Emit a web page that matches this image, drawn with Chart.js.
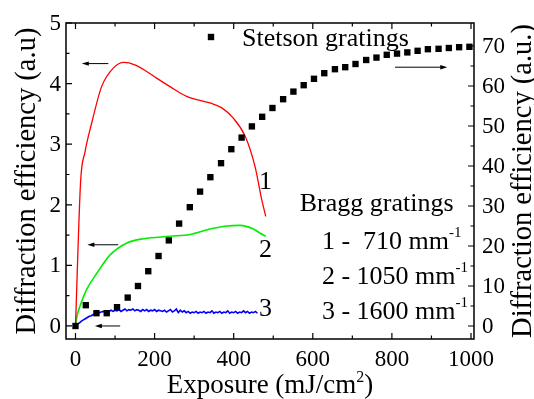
<!DOCTYPE html>
<html><head><meta charset="utf-8">
<script src="https://cdn.jsdelivr.net/npm/chart.js@4.4.1/dist/chart.umd.min.js"></script>
</head>
<body style="margin:0">
<div id="wrap" style="position:relative;width:534px;height:399px;overflow:hidden">
<canvas id="c" width="534" height="399"></canvas>
<div id="labels" style="position:absolute;left:0;top:0;width:534px;height:399px;color:#000;font-family:'Liberation Serif','Times New Roman',serif"></div>
</div>
<script>
// Stetson gratings (right axis)
const stetsonX = [0, 26, 53, 79, 105, 132, 158, 184, 210, 236, 262, 289, 315, 341, 368, 394, 420, 446, 472, 498,
                  525, 551, 577, 603, 629, 656, 682, 708, 735, 761, 787, 813, 839, 865, 891, 918, 944, 970, 996];
const stetsonY = [0, 5.2, 3.2, 3.2, 4.7, 7.1, 10, 13.7, 17.5, 21.4, 25.6, 29.7, 33.6, 37.2, 40.7, 44.2, 47.1, 49.9, 52.3, 54.5,
                  56.7, 58.6, 60.2, 61.8, 63.2, 64.2, 64.7, 65.5, 66.5, 67.1, 67.8, 68.1, 68.4, 68.8, 69.2, 69.3, 69.5, 69.7, 69.8];

// Bragg gratings (left axis)
const bragg1X = [0, 13, 24, 41, 66, 96, 123, 150, 180, 205, 239, 281, 340, 370, 399, 429, 454, 471, 481];
const bragg1Y = [0, 2.39, 2.87, 3.35, 3.95, 4.26, 4.35, 4.31, 4.2, 4.09, 3.95, 3.79, 3.68, 3.6, 3.43, 3.13, 2.63, 2.08, 1.81];

const bragg2X = [0, 4, 11, 28, 54, 87, 130, 172, 239, 290, 340, 382, 416, 450, 467, 481];
const bragg2Y = [0, 0.17, 0.32, 0.6, 0.87, 1.17, 1.37, 1.44, 1.48, 1.51, 1.6, 1.65, 1.66, 1.6, 1.53, 1.48];

const bragg3X = [0, 5, 10, 15, 20, 25, 30, 35, 40, 45, 50, 55, 60, 65, 70, 75, 80, 85, 90, 95,
                 100, 105, 110, 115, 120, 125, 130, 135, 140, 145, 150, 155, 160, 165, 170, 175, 180, 185, 190, 195,
                 200, 205, 210, 215, 220, 225, 230, 235, 240, 245, 250, 255, 260, 265, 270, 275, 280, 285, 290, 295,
                 300, 305, 310, 315, 320, 325, 330, 335, 340, 345, 350, 355, 360, 365, 370, 375, 380, 385, 390, 395,
                 400, 405, 410, 415, 420, 425, 430, 435, 440, 445, 450, 455, 460];
const bragg3Y = [0, 0.03, 0.05, 0.08, 0.10, 0.12, 0.14, 0.16, 0.17, 0.19, 0.20, 0.21, 0.22, 0.23, 0.24, 0.23, 0.25, 0.24, 0.26, 0.24,
                 0.26, 0.25, 0.27, 0.24, 0.26, 0.28, 0.25, 0.27, 0.26, 0.28, 0.25, 0.27, 0.26, 0.24, 0.27, 0.25, 0.27, 0.24, 0.26, 0.25,
                 0.27, 0.24, 0.26, 0.25, 0.24, 0.26, 0.23, 0.25, 0.27, 0.23, 0.25, 0.28, 0.22, 0.26, 0.23, 0.25, 0.22, 0.24, 0.21, 0.23,
                 0.22, 0.24, 0.21, 0.23, 0.22, 0.24, 0.21, 0.23, 0.22, 0.25, 0.21, 0.23, 0.22, 0.24, 0.21, 0.23, 0.22, 0.25, 0.21, 0.23,
                 0.22, 0.24, 0.21, 0.23, 0.22, 0.25, 0.22, 0.24, 0.21, 0.23, 0.22, 0.24, 0.21];

// tick values
const xTicks = [0, 200, 400, 600, 800, 1000];
const xMinor = [100, 300, 500, 700, 900];
const yTicks = [0, 1, 2, 3, 4, 5];
const yMinor = [0.5, 1.5, 2.5, 3.5, 4.5];
const y2Ticks = [0, 10, 20, 30, 40, 50, 60, 70];
const y2Minor = [5, 15, 25, 35, 45, 55, 65];

function pts(xs, ys) {
    return xs.map((x, i) => ({ x: x, y: ys[i] }));
}

// arrows: [x1, x2, y, axis] ; arrow head at x2
const arrows = [
    [83, 16, 4.33, 'y'],
    [108, 30, 1.34, 'y'],
    [113, 49, 0.0, 'y'],
    [808, 940, 64.7, 'y2']
];

const curveLabels = [['1', 464, 2.25], ['2', 464, 1.12], ['3', 464, 0.15]];

const braggLines = [
    ['1 -\u00A0 710 mm', '-1', 623, 1.256],
    ['2 - 1050 mm', '-1', 623, 0.678],
    ['3 - 1600 mm', '-1', 623, 0.099]
];

// text as html, baseline placed with line-height 0 (Liberation Serif: (ascent - descent) / 2 = 0.3375em)
const layer = document.getElementById('labels');
const BASE = 0.3375;

function addText(html, x, baseline, size, align) {
    const d = document.createElement('div');
    const shift = align === 'center' ? '-50%' : align === 'right' ? '-100%' : '0';
    d.style.cssText = 'position:absolute;white-space:nowrap;line-height:0;font-size:' + size + 'px;left:' + x +
        'px;top:' + (baseline - BASE * size) + 'px;transform:translateX(' + shift + ')';
    d.innerHTML = html;
    layer.appendChild(d);
}

function addVertical(text, baselineX, midY, size) {
    const d = document.createElement('div');
    d.style.cssText = 'position:absolute;white-space:nowrap;line-height:0;font-size:' + size + 'px;left:' +
        (baselineX - BASE * size) + 'px;top:' + midY + 'px;transform-origin:0 0;transform:rotate(-90deg) translateX(-50%)';
    d.textContent = text;
    layer.appendChild(d);
}

const framePlugin = {
    id: 'frame',
    afterDraw(chart) {
        const ctx = chart.ctx;
        const a = chart.chartArea;
        const sx = chart.scales.x, sy = chart.scales.y, sy2 = chart.scales.y2;
        ctx.save();
        ctx.strokeStyle = '#000';
        ctx.fillStyle = '#000';

        // box
        ctx.lineWidth = 1.5;
        ctx.strokeRect(a.left, a.top, a.right - a.left, a.bottom - a.top);

        // tick marks, inward
        ctx.lineWidth = 1.2;
        ctx.beginPath();
        xTicks.concat(xMinor).forEach(v => {
            const len = xTicks.includes(v) ? 6 : 3.5;
            const px = sx.getPixelForValue(v);
            ctx.moveTo(px, a.bottom); ctx.lineTo(px, a.bottom - len);
            ctx.moveTo(px, a.top); ctx.lineTo(px, a.top + len);
        });
        yTicks.concat(yMinor).forEach(v => {
            const len = yTicks.includes(v) ? 6 : 3.5;
            const py = sy.getPixelForValue(v);
            ctx.moveTo(a.left, py); ctx.lineTo(a.left + len, py);
        });
        y2Ticks.concat(y2Minor).forEach(v => {
            const len = y2Ticks.includes(v) ? 6 : 3.5;
            const py = sy2.getPixelForValue(v);
            ctx.moveTo(a.right, py); ctx.lineTo(a.right - len, py);
        });
        ctx.stroke();

        // arrows
        ctx.lineWidth = 1;
        arrows.forEach(([x1, x2, y, ax]) => {
            const p1 = sx.getPixelForValue(x1), p2 = sx.getPixelForValue(x2);
            const py = chart.scales[ax].getPixelForValue(y);
            const dir = p2 > p1 ? 1 : -1;
            ctx.beginPath();
            ctx.moveTo(p1, py); ctx.lineTo(p2 - dir * 5, py);
            ctx.stroke();
            ctx.beginPath();
            ctx.moveTo(p2, py);
            ctx.lineTo(p2 - dir * 7, py - 2.2);
            ctx.lineTo(p2 - dir * 7, py + 2.2);
            ctx.closePath();
            ctx.fill();
        });

        // Stetson legend square
        const lx = sx.getPixelForValue(342.6), ly = sy2.getPixelForValue(72.25);
        ctx.fillRect(lx - 3.2, ly - 3.2, 6.4, 6.4);
        ctx.restore();

        // all text
        layer.innerHTML = '';
        xTicks.forEach(v => addText(String(v), sx.getPixelForValue(v), 367, 23, 'center'));
        yTicks.forEach(v => addText(String(v), 61, sy.getPixelForValue(v) + 7.8, 23, 'right'));
        y2Ticks.forEach(v => addText(String(v), 482, sy2.getPixelForValue(v) + 7.8, 23, 'left'));

        curveLabels.forEach(([t, x, y]) => addText(t, sx.getPixelForValue(x), sy.getPixelForValue(y), 26, 'left'));

        addText('Bragg gratings', sx.getPixelForValue(567), sy.getPixelForValue(1.884), 26, 'left');
        braggLines.forEach(([t, sup, x, y]) => {
            addText(t + '<span style="font-size:15px;position:relative;top:-12px">' + sup + '</span>',
                sx.getPixelForValue(x), sy.getPixelForValue(y), 26, 'left');
        });
        addText('Stetson gratings', sx.getPixelForValue(421), sy2.getPixelForValue(69.75), 26, 'left');

        const midY = (a.top + a.bottom) / 2;
        addVertical('Diffraction efficiency (a.u)', 36, midY, 28.5);
        addVertical('Diffraction efficiency (a.u.)', 532, midY, 28.5);
        addText('Exposure (mJ/cm<span style="font-size:16px;position:relative;top:-11px">2</span>)',
            (a.left + a.right) / 2, 393, 27, 'center');
    }
};

new Chart(document.getElementById('c').getContext('2d'), {
    type: 'line',
    data: {
        datasets: [
            {
                label: 'Stetson gratings',
                data: pts(stetsonX, stetsonY),
                yAxisID: 'y2',
                showLine: false,
                pointStyle: 'rect',
                pointRadius: 4.5,
                pointBackgroundColor: '#000',
                pointBorderWidth: 0
            },
            {
                label: '1',
                data: pts(bragg1X, bragg1Y),
                yAxisID: 'y',
                borderColor: '#ff0000',
                borderWidth: 1.3,
                pointRadius: 0,
                cubicInterpolationMode: 'monotone'
            },
            {
                label: '2',
                data: pts(bragg2X, bragg2Y),
                yAxisID: 'y',
                borderColor: '#00ee00',
                borderWidth: 1.6,
                pointRadius: 0,
                cubicInterpolationMode: 'monotone'
            },
            {
                label: '3',
                data: pts(bragg3X, bragg3Y),
                yAxisID: 'y',
                borderColor: '#0000ff',
                borderWidth: 1.6,
                pointRadius: 0
            }
        ]
    },
    options: {
        responsive: false,
        animation: false,
        layout: { padding: { top: 23 } },
        plugins: {
            legend: { display: false },
            tooltip: { enabled: false }
        },
        scales: {
            x: {
                type: 'linear',
                min: -24,
                max: 1007.6,
                grid: { display: false, drawTicks: false },
                border: { display: false },
                afterBuildTicks: s => { s.ticks = xTicks.map(v => ({ value: v })); },
                afterFit: s => { s.height = 60; },
                ticks: { display: false }
            },
            y: {
                type: 'linear',
                position: 'left',
                min: -0.215,
                max: 5.0,
                grid: { display: false, drawTicks: false },
                border: { display: false },
                afterBuildTicks: s => { s.ticks = yTicks.map(v => ({ value: v })); },
                afterFit: s => { s.width = 66; },
                ticks: { display: false }
            },
            y2: {
                type: 'linear',
                position: 'right',
                min: -3.25,
                max: 75.75,
                grid: { display: false, drawTicks: false },
                border: { display: false },
                afterBuildTicks: s => { s.ticks = y2Ticks.map(v => ({ value: v })); },
                afterFit: s => { s.width = 60; },
                ticks: { display: false }
            }
        }
    },
    plugins: [framePlugin]
});
</script>
</body></html>
